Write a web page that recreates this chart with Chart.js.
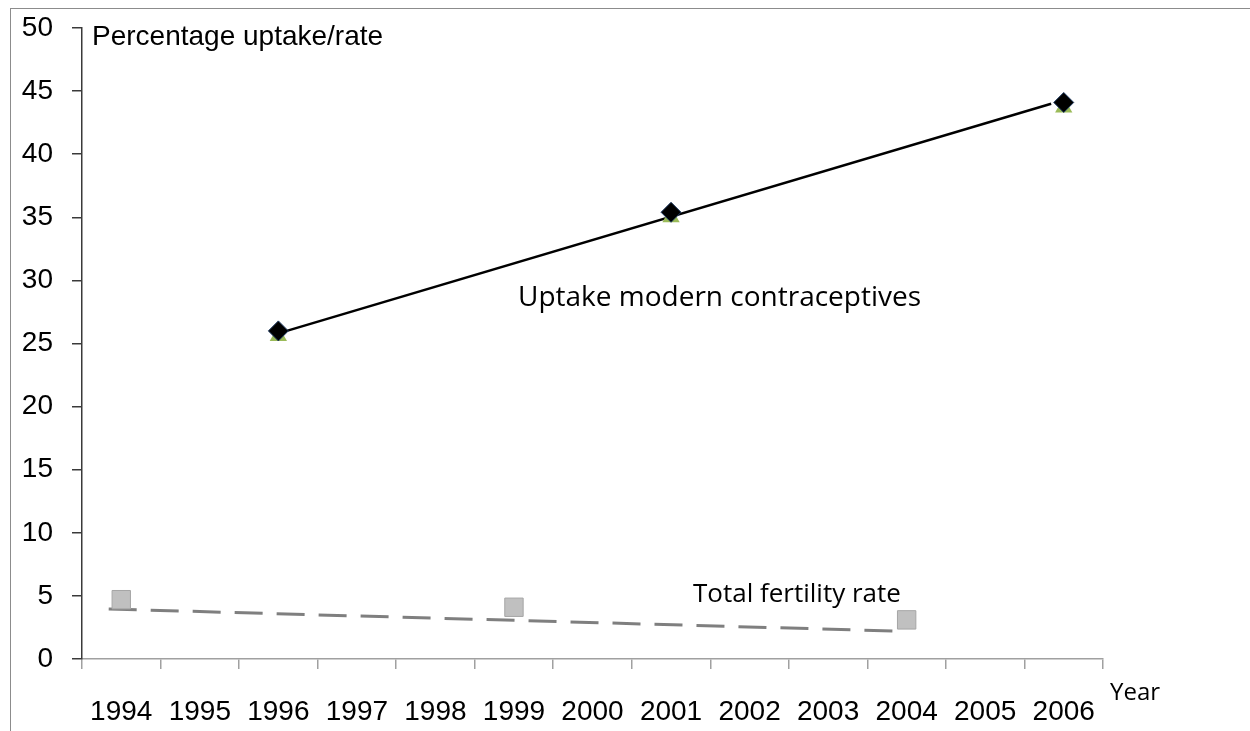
<!DOCTYPE html>
<html>
<head>
<meta charset="utf-8">
<script src="https://cdn.jsdelivr.net/npm/chart.js@4.4.1/dist/chart.umd.min.js"></script>
<style>
  html, body { margin: 0; padding: 0; background: #fff; }
  #wrap { width: 1250px; height: 731px; position: relative; }
</style>
</head>
<body>
<div id="wrap"><canvas id="grafico" width="1250" height="731"></canvas></div>
<script>
// Dados
const anos = ['1994', '1995', '1996', '1997', '1998', '1999', '2000', '2001', '2002', '2003', '2004', '2005', '2006'];
const usoContraceptivos = [null, null, 26.0, null, null, null, null, 35.4, null, null, null, null, 44.1];
const usoContraceptivosB = [null, null, 25.6, null, null, null, null, 35.0, null, null, null, null, 43.7];
const fecundidade = [4.7, null, null, null, null, 4.1, null, null, null, null, 3.1, null, null];
// Linhas de tendência (ano, valor)
const tendenciaUsoX = [1996, 2005.84];
const tendenciaUsoY = [25.8, 44.0];
const tendenciaFecX = [1993.84, 2003.84];
const tendenciaFecY = [3.96, 2.22];
const ticksY = [0, 5, 10, 15, 20, 25, 30, 35, 40, 45, 50];

const fonteArial = '"Liberation Sans", Arial, sans-serif';
const fonteCalibri = '"Open Sans", sans-serif';

// Textos e moldura desenhados por cima
const textosPlugin = {
    id: 'textos',
    afterDraw(chart) {
        const ctx = chart.ctx;
        const area = chart.chartArea;
        ctx.save();
        ctx.strokeStyle = '#8c8c8c';
        ctx.lineWidth = 1;
        ctx.strokeRect(10.5, 8.5, 1400, 900);
        ctx.fillStyle = '#000';
        ctx.textBaseline = 'middle';
        ctx.textAlign = 'left';
        ctx.font = '28px ' + fonteArial;
        ctx.fillText('Percentage uptake/rate', area.left + 10, 37);
        ctx.font = '28px ' + fonteCalibri;
        ctx.fillText('Uptake modern contraceptives', 518, 298);
        ctx.font = '26px ' + fonteCalibri;
        ctx.fillText('Total fertility rate', 693, 595);
        ctx.font = '24px ' + fonteCalibri;
        ctx.fillText('Year', 1110, 693);
        ctx.restore();
    }
};

const ctx = document.getElementById('grafico').getContext('2d');
new Chart(ctx, {
    type: 'line',
    data: {
        labels: anos,
        datasets: [{
            label: 'Trend uptake',
            data: tendenciaUsoX.map((x, i) => ({ x: x, y: tendenciaUsoY[i] })),
            xAxisID: 'xt',
            borderColor: '#000',
            borderWidth: 2.5,
            pointRadius: 0,
            order: 3
        }, {
            label: 'Trend fertility',
            data: tendenciaFecX.map((x, i) => ({ x: x, y: tendenciaFecY[i] })),
            xAxisID: 'xt',
            borderColor: '#7f7f7f',
            borderWidth: 3,
            borderDash: [28, 14],
            pointRadius: 0,
            order: 3
        }, {
            label: 'Uptake B',
            data: usoContraceptivosB,
            showLine: false,
            pointStyle: 'triangle',
            pointRadius: 10,
            backgroundColor: '#9bbb59',
            borderColor: '#9bbb59',
            borderWidth: 0,
            order: 2
        }, {
            label: 'Uptake modern contraceptives',
            data: usoContraceptivos,
            showLine: false,
            pointStyle: 'rectRot',
            pointRadius: 10,
            backgroundColor: '#000',
            borderColor: '#1f3a60',
            borderWidth: 1,
            order: 1
        }, {
            label: 'Total fertility rate',
            data: fecundidade,
            showLine: false,
            pointStyle: 'rect',
            pointRadius: 13,
            backgroundColor: '#c0c0c0',
            borderColor: '#a6a6a6',
            borderWidth: 1,
            order: 1
        }]
    },
    options: {
        responsive: false,
        animation: false,
        layout: { padding: { top: 28, right: 147, left: 0, bottom: 0 } },
        plugins: { legend: { display: false }, tooltip: { enabled: false } },
        scales: {
            x: {
                type: 'category',
                offset: true,
                grid: {
                    offset: true,
                    drawOnChartArea: false,
                    drawTicks: true,
                    tickLength: 10,
                    color: '#a0a0a0',
                    lineWidth: 1.5
                },
                border: { color: '#a0a0a0', width: 1.5 },
                ticks: {
                    color: '#000',
                    font: { family: fonteArial, size: 28 },
                    padding: 26,
                    maxRotation: 0,
                    autoSkip: false
                },
                afterFit(scale) { scale.height = 72; }
            },
            xt: {
                type: 'linear',
                display: false,
                min: 1993.5,
                max: 2006.5
            },
            y: {
                min: 0,
                max: 50,
                afterBuildTicks(scale) { scale.ticks = ticksY.map(v => ({ value: v })); },
                grid: {
                    drawOnChartArea: false,
                    drawTicks: true,
                    tickLength: 10,
                    color: '#3a3a3a',
                    lineWidth: 1.5
                },
                border: { color: '#3a3a3a', width: 1.5 },
                ticks: {
                    color: '#000',
                    font: { family: fonteArial, size: 28 },
                    padding: 19
                },
                afterFit(scale) {
                    scale.width = 82;
                    scale.paddingTop = 0;
                    scale.paddingBottom = 0;
                }
            }
        }
    },
    plugins: [textosPlugin]
});
</script>
</body>
</html>
